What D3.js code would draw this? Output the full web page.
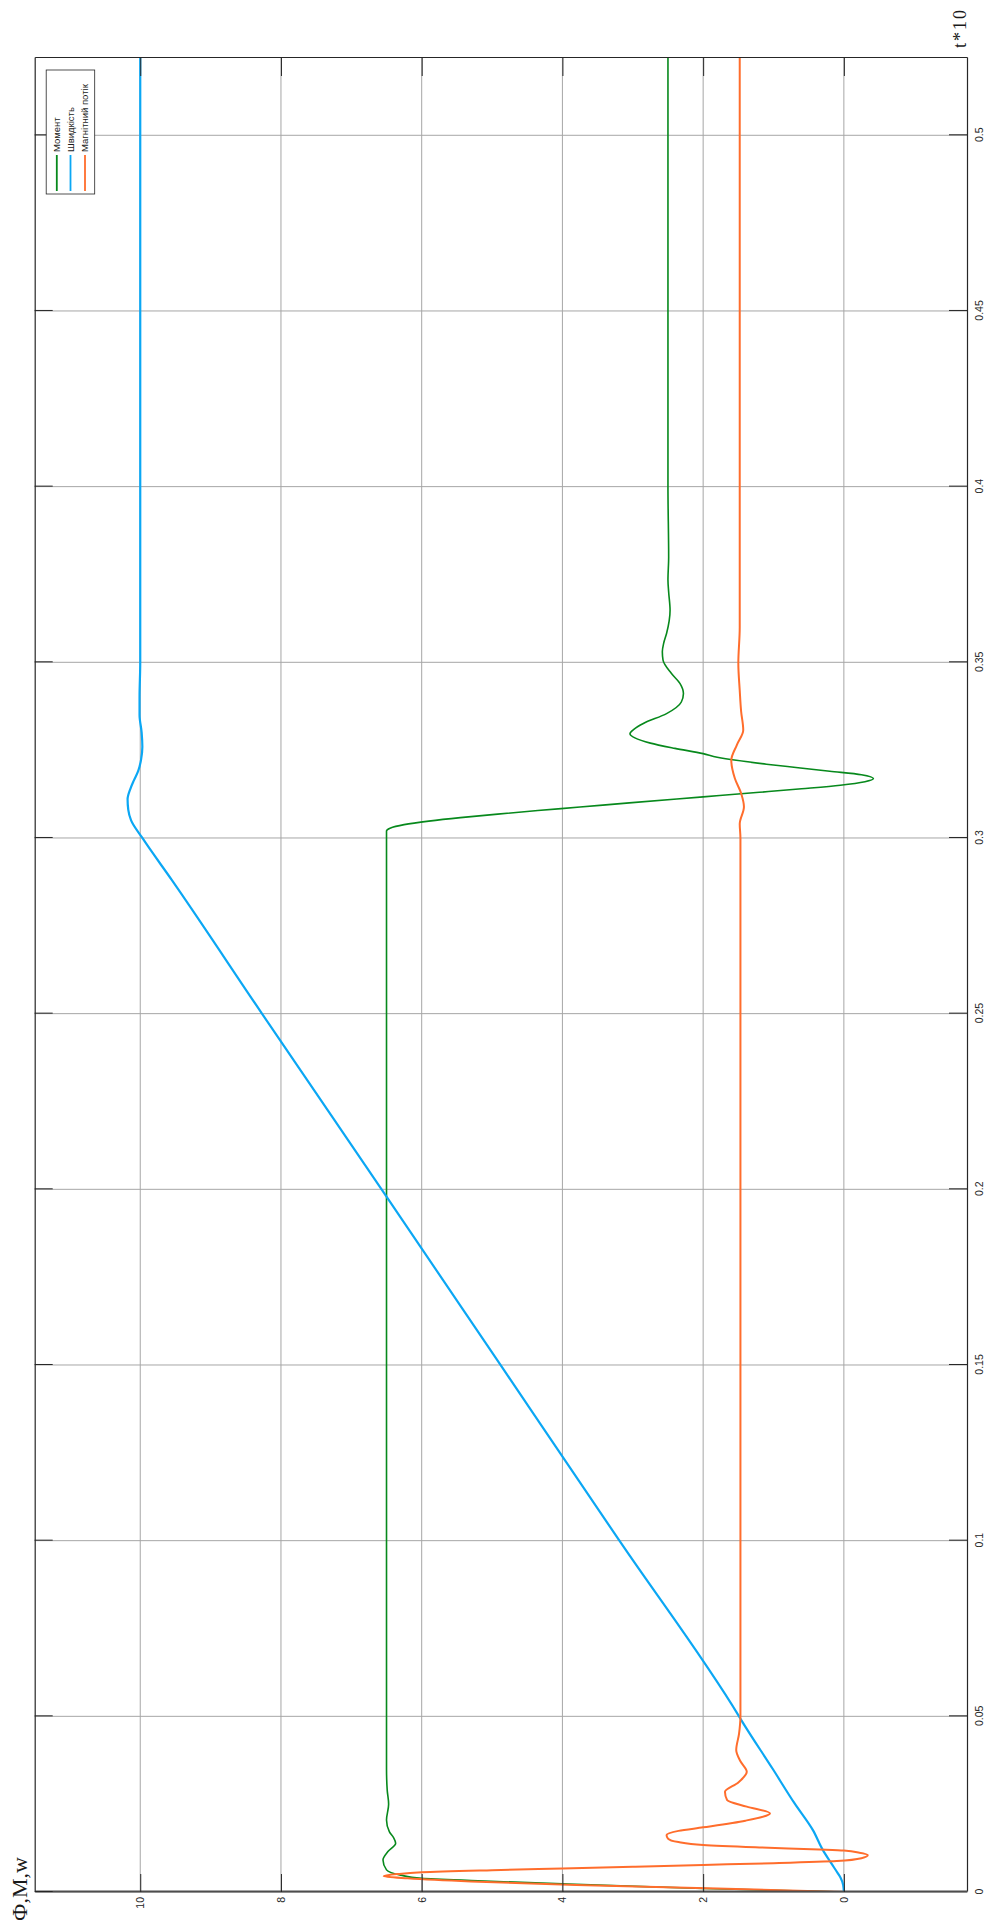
<!DOCTYPE html>
<html>
<head>
<meta charset="utf-8">
<script src="https://cdn.jsdelivr.net/npm/d3@7"></script>
<style>
  body { margin: 0; background: #fff; }
  svg { display: block; }
</style>
</head>
<body>
<svg id="chart" width="989" height="1930"></svg>
<script>
// ---- data -------------------------------------------------------------
const seriesNames = ["Момент", "Швидкість", "Магнітний потік"];
const seriesColors = ["#07891c", "#0ba7f4", "#ff6d2c"];

const timeTicks = [0, 0.05, 0.1, 0.15, 0.2, 0.25, 0.3, 0.35, 0.4, 0.45, 0.5];
const timeTickLabels = ["0", "0.05", "0.1", "0.15", "0.2", "0.25", "0.3", "0.35", "0.4", "0.45", "0.5"];
const valueTicks = [0, 2, 4, 6, 8, 10];
const valueTickLabels = ["0", "2", "4", "6", "8", "10"];

// torque (Момент)
const momentTime = [0, 0.001, 0.0023, 0.0032, 0.0039, 0.0048, 0.0063, 0.0091, 0.0115, 0.0139, 0.0155,
  0.0172, 0.0205, 0.025, 0.029, 0.035, 0.05, 0.1, 0.2, 0.3, 0.302, 0.3028, 0.3038, 0.3048, 0.3058,
  0.3068, 0.3078, 0.3088, 0.310, 0.3117, 0.313, 0.314, 0.315, 0.316, 0.3169, 0.318, 0.319, 0.320,
  0.321, 0.3221, 0.323, 0.324, 0.3255, 0.327, 0.3285, 0.3297, 0.331, 0.3326, 0.3354, 0.3387, 0.3411,
  0.344, 0.3468, 0.3506, 0.353, 0.3555, 0.3582, 0.3648, 0.370, 0.3734, 0.38, 0.40, 0.45, 0.522];
const momentValue = [0, 2.0, 4.0, 5.2, 6.0, 6.3, 6.5, 6.55, 6.48, 6.37, 6.40,
  6.46, 6.50, 6.47, 6.49, 6.50, 6.50, 6.50, 6.50, 6.50, 6.50, 6.45, 6.25, 5.9, 5.45,
  4.92, 4.35, 3.75, 3.05, 2.0, 1.2, 0.6, 0.05, -0.3, -0.42, -0.25, 0.2, 0.65,
  1.1, 1.53, 1.8, 2.0, 2.4, 2.75, 2.97, 3.04, 2.98, 2.85, 2.52, 2.31, 2.28,
  2.33, 2.45, 2.57, 2.58, 2.56, 2.52, 2.47, 2.49, 2.50, 2.49, 2.50, 2.50, 2.50];

// speed (Швидкість)
const speedTime = [0, 0.002, 0.004, 0.0053, 0.0082, 0.012, 0.0176, 0.0252, 0.035, 0.049, 0.05,
  0.1, 0.15, 0.2, 0.25, 0.288, 0.3, 0.305, 0.308, 0.311, 0.314, 0.3164, 0.319, 0.3221, 0.326,
  0.330, 0.335, 0.34, 0.35, 0.4, 0.45, 0.522];
const speedValue = [0, 0.01, 0.045, 0.085, 0.18, 0.30, 0.44, 0.70, 1.01, 1.46, 1.49,
  3.19, 4.88, 6.57, 8.27, 9.55, 9.97, 10.13, 10.17, 10.18, 10.14, 10.09, 10.03, 9.99, 9.97,
  9.98, 10.01, 10.01, 10.0, 10.0, 10.0, 10.0];

// magnetic flux (Магнітний потік)
const fluxTime = [0, 0.001, 0.002, 0.003, 0.0039, 0.0045, 0.0051, 0.0056, 0.0062, 0.0067, 0.0072,
  0.0077, 0.0082, 0.0088, 0.0096, 0.0105, 0.0112, 0.0118, 0.0121, 0.0127, 0.0134, 0.0142, 0.0152,
  0.0162, 0.0174, 0.0184, 0.0203, 0.0224, 0.0243, 0.0262, 0.0285, 0.0312, 0.0342, 0.0372, 0.0404,
  0.045, 0.05, 0.1, 0.2, 0.3, 0.304, 0.3089, 0.3127, 0.317, 0.3221, 0.3265, 0.3307, 0.336, 0.342,
  0.3497, 0.36, 0.4, 0.45, 0.522];
const fluxValue = [0, 1.8, 3.8, 5.3, 6.2, 6.54, 6.35, 6.0, 5.0, 4.0, 3.0,
  2.0, 1.0, 0.1, -0.25, -0.34, -0.22, 0.0, 0.35, 1.2, 2.0, 2.35, 2.5,
  2.52, 2.35, 2.0, 1.4, 1.05, 1.38, 1.66, 1.69, 1.5, 1.38, 1.47, 1.53,
  1.49, 1.47, 1.47, 1.47, 1.47, 1.48, 1.42, 1.46, 1.55, 1.60, 1.52, 1.43, 1.46, 1.48,
  1.50, 1.48, 1.48, 1.48, 1.48];

const timeDomain = [0, 0.522];
const valueDomain = [-1.75, 11.5];

// ---- layout -----------------------------------------------------------
// The axes are drawn in an ordinary frame and the frame is turned a quarter
// turn counter-clockwise, so time runs upward and values grow to the left.
const frame = { left: 34.7, right: 967, top: 58, bottom: 1892 };
const W = frame.bottom - frame.top;    // length of the time axis
const H = frame.right - frame.left;    // length of the value axis

const svg = d3.select("#chart");
svg.append("rect").attr("width", 989).attr("height", 1930).attr("fill", "#fff");

const g = svg.append("g")
  .attr("transform", `translate(${frame.left},${frame.bottom}) rotate(-90)`);

const x = d3.scaleLinear().domain(timeDomain).range([0, W]);
const y = d3.scaleLinear().domain(valueDomain).range([H, 0]);

// grid
const grid = g.append("g").attr("stroke", "#a6a6a6").attr("stroke-width", 1);
grid.selectAll("line.gx").data(timeTicks).join("line")
  .attr("x1", d => x(d)).attr("x2", d => x(d)).attr("y1", 0).attr("y2", H);
grid.selectAll("line.gy").data(valueTicks).join("line")
  .attr("x1", 0).attr("x2", W).attr("y1", d => y(d)).attr("y2", d => y(d));

// series
g.append("clipPath").attr("id", "plotClip")
  .append("rect").attr("x", 0).attr("y", 0).attr("width", W).attr("height", H);

const line = d3.line()
  .x(d => x(d[0]))
  .y(d => y(d[1]))
  .curve(d3.curveMonotoneX);

const series = [
  { name: seriesNames[0], color: seriesColors[0], width: 1.6, pts: d3.zip(momentTime, momentValue) },
  { name: seriesNames[1], color: seriesColors[1], width: 2.2, pts: d3.zip(speedTime, speedValue) },
  { name: seriesNames[2], color: seriesColors[2], width: 2.0, pts: d3.zip(fluxTime, fluxValue) }
];

g.append("g").attr("clip-path", "url(#plotClip)")
  .selectAll("path").data(series).join("path")
  .attr("fill", "none")
  .attr("stroke", d => d.color)
  .attr("stroke-width", d => d.width)
  .attr("stroke-linejoin", "round")
  .attr("d", d => line(d.pts));

// axes with inward ticks on all four sides
const tickLen = 18;
const fontFamily = "'Liberation Sans', Arial, Helvetica, sans-serif";

const axB = g.append("g").attr("transform", `translate(0,${H})`)
  .call(d3.axisBottom(x).tickValues(timeTicks)
    .tickFormat((d, i) => timeTickLabels[i])
    .tickSize(-tickLen).tickSizeOuter(0).tickPadding(9));
const axL = g.append("g")
  .call(d3.axisLeft(y).tickValues(valueTicks)
    .tickFormat((d, i) => valueTickLabels[i])
    .tickSize(-tickLen).tickSizeOuter(0).tickPadding(5));
const axT = g.append("g")
  .call(d3.axisTop(x).tickValues(timeTicks).tickFormat("")
    .tickSize(-tickLen).tickSizeOuter(0));
const axR = g.append("g").attr("transform", `translate(${W},0)`)
  .call(d3.axisRight(y).tickValues(valueTicks).tickFormat("")
    .tickSize(-tickLen).tickSizeOuter(0));

[axB, axL, axT, axR].forEach(a => {
  a.select(".domain").attr("stroke", "#262626").attr("stroke-width", 1.2);
  a.selectAll(".tick line").attr("stroke", "#262626").attr("stroke-width", 1);
  a.selectAll("text").attr("fill", "#262626")
    .style("font-family", fontFamily).style("font-size", "10.5px");
});
axL.select(".domain").attr("stroke", "#4d4d4d").attr("stroke-width", 2.2);

// axis titles
g.append("text")
  .attr("x", W + 10).attr("y", H - 1)
  .attr("textLength", 38).attr("lengthAdjust", "spacing")
  .style("font-family", "'Liberation Serif', 'Times New Roman', serif")
  .style("font-size", "18px").attr("fill", "#1a1a1a")
  .text("t*10");

g.append("text")
  .attr("x", -29).attr("y", -8)
  .style("font-family", "'Liberation Serif', 'Times New Roman', serif")
  .style("font-size", "22px").attr("fill", "#1a1a1a")
  .text("Ф,М,w");

// legend (top corner of the time axis)
const lg = g.append("g").attr("transform", `translate(${W - 136},11.5)`);
lg.append("rect").attr("width", 124).attr("height", 48.5)
  .attr("fill", "#fff").attr("stroke", "#262626").attr("stroke-width", 0.8);
const rowY = [10.6, 24.3, 38.8];
series.forEach((s, i) => {
  lg.append("line").attr("x1", 3).attr("x2", 39).attr("y1", rowY[i]).attr("y2", rowY[i])
    .attr("stroke", s.color).attr("stroke-width", 1.8);
  lg.append("text").attr("x", 42).attr("y", rowY[i]).attr("dy", "0.35em")
    .style("font-family", fontFamily).style("font-size", "9.5px").attr("fill", "#1a1a1a")
    .text(s.name);
});
</script>
</body>
</html>
